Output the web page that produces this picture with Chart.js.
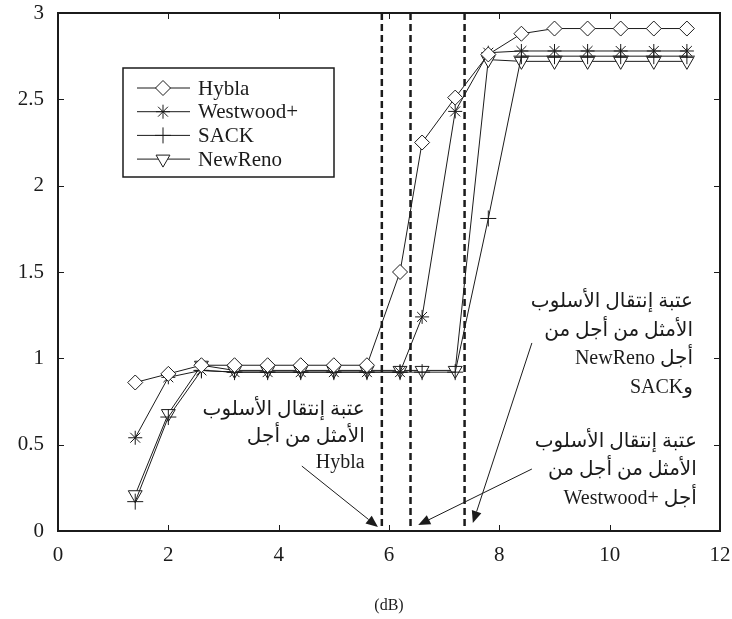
<!DOCTYPE html>
<html>
<head>
<meta charset="utf-8">
<script src="https://cdn.jsdelivr.net/npm/chart.js@4/dist/chart.umd.min.js"></script>
<style>
  html, body { margin: 0; padding: 0; background: #fff; }
</style>
</head>
<body>
<canvas id="chart" width="732" height="619"></canvas>
<script>
// SNR (dB) sample points
const snr = [1.4, 2.0, 2.6, 3.2, 3.8, 4.4, 5.0, 5.6, 6.2, 6.6, 7.2, 7.8, 8.4, 9.0, 9.6, 10.2, 10.8, 11.4];

const hybla    = [0.86, 0.91, 0.96, 0.96, 0.96, 0.96, 0.96, 0.96, 1.50, 2.25, 2.51, 2.76, 2.88, 2.91, 2.91, 2.91, 2.91, 2.91];
const westwood = [0.54, 0.89, 0.93, 0.92, 0.92, 0.92, 0.92, 0.92, 0.92, 1.24, 2.43, 2.77, 2.78, 2.78, 2.78, 2.78, 2.78, 2.78];
const sack     = [0.17, 0.66, 0.93, 0.92, 0.92, 0.92, 0.92, 0.92, 0.92, 0.92, 0.92, 1.81, 2.75, 2.75, 2.75, 2.75, 2.75, 2.75];
const newReno  = [0.21, 0.68, 0.96, 0.93, 0.93, 0.93, 0.93, 0.93, 0.93, 0.93, 0.93, 2.73, 2.72, 2.72, 2.72, 2.72, 2.72, 2.72];

const seriesNames = ['Hybla', 'Westwood+', 'SACK', 'NewReno'];

// threshold positions (dB) of the dashed verticals
const thresholds = [5.87, 6.39, 7.37];

const xTicks = [0, 2, 4, 6, 8, 10, 12];
const yTicks = [0, 0.5, 1, 1.5, 2, 2.5, 3];

// annotation blocks, anchored in data units
const notes = [
  {
    lines: ['عتبة إنتقال الأسلوب', 'الأمثل من أجل', 'Hybla'],
    right: 5.56, rows: [0.70, 0.545, 0.395],
    from: [4.42, 0.376], to: [5.80, 0.023]
  },
  {
    lines: ['عتبة إنتقال الأسلوب', 'الأمثل من أجل من', 'أجل NewReno', 'وSACK'],
    right: 11.51, rows: [1.326, 1.158, 0.996, 0.828],
    from: [8.59, 1.089], to: [7.52, 0.046]
  },
  {
    lines: ['عتبة إنتقال الأسلوب', 'الأمثل من أجل من', 'أجل +Westwood'],
    right: 11.58, rows: [0.515, 0.353, 0.185],
    from: [8.59, 0.359], to: [6.53, 0.035]
  }
];

const INK = '#1b1b1b';
const SERIF = "'Liberation Serif', 'Times New Roman', serif";
const MIXED = "'Liberation Serif', 'DejaVu Sans', serif";

function pts(values) {
  return values.map((v, i) => ({ x: snr[i], y: v }));
}

function makeSet(label, values, style, radius, rotation) {
  return {
    label,
    data: pts(values),
    showLine: true,
    borderColor: INK,
    borderWidth: 1,
    pointStyle: style,
    pointRadius: radius,
    pointRotation: rotation || 0,
    pointBorderColor: INK,
    pointBorderWidth: 1,
    pointBackgroundColor: '#fff',
    tension: 0
  };
}

function arrow(ctx, x1, y1, x2, y2) {
  const ang = Math.atan2(y2 - y1, x2 - x1);
  const len = 12, half = 5;
  const bx = x2 - len * Math.cos(ang), by = y2 - len * Math.sin(ang);
  ctx.beginPath();
  ctx.moveTo(x1, y1);
  ctx.lineTo(bx, by);
  ctx.stroke();
  ctx.beginPath();
  ctx.moveTo(x2, y2);
  ctx.lineTo(bx + half * Math.sin(ang), by - half * Math.cos(ang));
  ctx.lineTo(bx - half * Math.sin(ang), by + half * Math.cos(ang));
  ctx.closePath();
  ctx.fill();
}

const decor = {
  id: 'decor',
  afterDatasetsDraw(chart) {
    const { ctx, chartArea: a, scales: { x, y } } = chart;
    ctx.save();
    ctx.strokeStyle = INK;
    ctx.fillStyle = INK;

    // inward ticks on all four sides
    ctx.lineWidth = 1;
    xTicks.forEach(t => {
      const px = Math.round(x.getPixelForValue(t)) + 0.5;
      ctx.beginPath();
      ctx.moveTo(px, a.bottom); ctx.lineTo(px, a.bottom - 6);
      ctx.moveTo(px, a.top); ctx.lineTo(px, a.top + 6);
      ctx.stroke();
    });
    yTicks.forEach(t => {
      const py = Math.round(y.getPixelForValue(t)) + 0.5;
      ctx.beginPath();
      ctx.moveTo(a.left, py); ctx.lineTo(a.left + 6, py);
      ctx.moveTo(a.right, py); ctx.lineTo(a.right - 6, py);
      ctx.stroke();
    });

    // frame
    ctx.lineWidth = 2;
    ctx.strokeRect(a.left, a.top, a.right - a.left, a.bottom - a.top);

    // dashed threshold lines
    ctx.lineWidth = 2.5;
    ctx.setLineDash([7, 4]);
    thresholds.forEach(t => {
      const px = x.getPixelForValue(t);
      ctx.beginPath();
      ctx.moveTo(px, a.top);
      ctx.lineTo(px, a.bottom);
      ctx.stroke();
    });
    ctx.setLineDash([]);

    // legend
    const lx = 123, ly = 68, lw = 211, lh = 109;
    ctx.fillStyle = '#fff';
    ctx.fillRect(lx, ly, lw, lh);
    ctx.lineWidth = 1.5;
    ctx.strokeRect(lx, ly, lw, lh);
    ctx.font = '21px ' + SERIF;
    ctx.textBaseline = 'middle';
    ctx.textAlign = 'left';
    chart.data.datasets.forEach((ds, i) => {
      const ry = ly + 20 + i * 23.7;
      ctx.lineWidth = 1;
      ctx.strokeStyle = INK;
      ctx.beginPath();
      ctx.moveTo(lx + 14, ry); ctx.lineTo(lx + 67, ry);
      ctx.stroke();
      ctx.fillStyle = '#fff';
      Chart.helpers.drawPoint(ctx, {
        pointStyle: ds.pointStyle, radius: ds.pointRadius,
        rotation: ds.pointRotation, borderWidth: 1
      }, lx + 40, ry);
      ctx.fillStyle = INK;
      ctx.fillText(seriesNames[i], lx + 75, ry + 1);
    });

    // annotation texts and arrows
    ctx.font = '20px ' + MIXED;
    ctx.direction = 'rtl';
    ctx.textAlign = 'right';
    ctx.fillStyle = INK;
    ctx.lineWidth = 1;
    notes.forEach(n => {
      const rx = x.getPixelForValue(n.right);
      n.lines.forEach((s, i) => ctx.fillText(s, rx, y.getPixelForValue(n.rows[i])));
      arrow(ctx,
        x.getPixelForValue(n.from[0]), y.getPixelForValue(n.from[1]),
        x.getPixelForValue(n.to[0]), y.getPixelForValue(n.to[1]));
    });
    ctx.restore();
  }
};

new Chart(document.getElementById('chart'), {
  type: 'scatter',
  data: {
    datasets: [
      makeSet(seriesNames[0], hybla, 'rectRot', 7.5),
      makeSet(seriesNames[1], westwood, 'star', 7),
      makeSet(seriesNames[2], sack, 'cross', 8),
      makeSet(seriesNames[3], newReno, 'triangle', 8, 180)
    ]
  },
  options: {
    responsive: false,
    animation: false,
    layout: { padding: { left: 0, right: 12, top: 13, bottom: 0 } },
    plugins: { legend: { display: false }, tooltip: { enabled: false } },
    scales: {
      x: {
        type: 'linear', min: 0, max: 12,
        grid: { display: false, drawTicks: false },
        border: { display: false },
        ticks: { stepSize: 2, padding: 12, color: INK, font: { family: SERIF, size: 21 } },
        title: { display: true, text: '(dB)', color: INK, font: { family: SERIF, size: 16 }, padding: { top: 0, bottom: 4 } },
        afterFit: s => { s.height = 88; s.paddingLeft = 0; s.paddingRight = 0; }
      },
      y: {
        min: 0, max: 3,
        grid: { display: false, drawTicks: false },
        border: { display: false },
        ticks: { stepSize: 0.5, padding: 14, color: INK, font: { family: SERIF, size: 21 }, callback: v => String(v) },
        afterFit: s => { s.width = 58; s.paddingTop = 0; s.paddingBottom = 0; }
      }
    }
  },
  plugins: [decor]
});
</script>
</body>
</html>
